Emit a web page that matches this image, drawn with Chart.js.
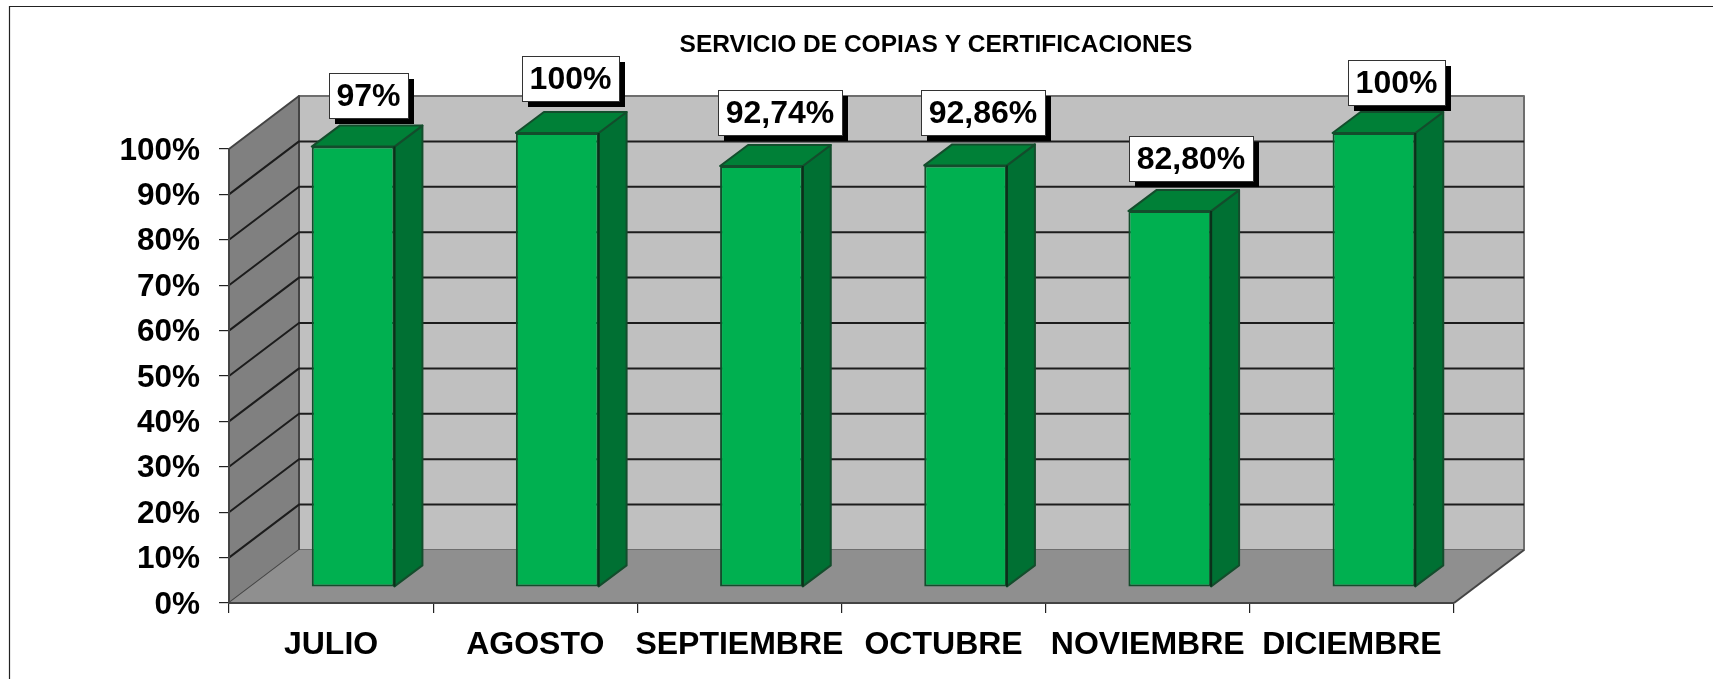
<!DOCTYPE html>
<html><head><meta charset="utf-8">
<style>html,body{margin:0;padding:0;background:#fff}canvas{display:block;filter:blur(0.45px)}</style>
<script src="https://cdn.jsdelivr.net/npm/chart.js@4"></script>
</head><body><canvas id="c" width="1713" height="679"></canvas>
<script>
const categories = ['JULIO','AGOSTO','SEPTIEMBRE','OCTUBRE','NOVIEMBRE','DICIEMBRE'];
const values = [97,100,92.74,92.86,82.8,100];
const valueLabels = ['97%','100%','92,74%','92,86%','82,80%','100%'];
const titleText = 'SERVICIO DE COPIAS Y CERTIFICACIONES';
const labelShiftX = [15.5,13.5,18.5,17.5,21.5,23];
const labelShiftY = [29,32,31,30,30,28];

const FONT = '"Liberation Sans", Arial, sans-serif';
const DX = 70, DY = 53;      // depth of the 3D box
const BX = 22, BY = 16;      // bars sit inside the box
const SX = 28, SY = 21;      // depth of a bar

function poly(ctx, pts, fill, stroke, lw){
  ctx.beginPath();
  pts.forEach((p,i)=> i ? ctx.lineTo(p[0],p[1]) : ctx.moveTo(p[0],p[1]));
  ctx.closePath();
  if(fill){ctx.fillStyle=fill;ctx.fill();}
  if(stroke){ctx.strokeStyle=stroke;ctx.lineWidth=lw||1;ctx.lineJoin='round';ctx.stroke();}
}
function line(ctx,pts,color,lw){
  ctx.beginPath();
  pts.forEach((p,i)=> i ? ctx.lineTo(p[0],p[1]) : ctx.moveTo(p[0],p[1]));
  ctx.strokeStyle=color;ctx.lineWidth=lw;ctx.stroke();
}
const box3d = {
  id:'box3d',
  afterLayout(chart){
    const t = chart.titleBlock;
    t.left += 209; t.right += 209;
  },
  beforeDraw(chart){
    const {ctx,scales:{x,y}} = chart;
    const l=x.left,r=x.right,top=y.getPixelForValue(100),bot=y.getPixelForValue(0);
    ctx.save();
    line(ctx,[[9.5,679],[9.5,6.5],[1713,6.5]],'#222',1.2);
    poly(ctx,[[l+DX,top-DY],[r+DX,top-DY],[r+DX,bot-DY],[l+DX,bot-DY]],'#C0C0C0','#6e6e6e',2);
    poly(ctx,[[l,top],[l+DX,top-DY],[l+DX,bot-DY],[l,bot]],'#808080','#444',2);
    poly(ctx,[[l,bot],[l+DX,bot-DY],[r+DX,bot-DY],[r,bot]],'#8F8F8F');
    line(ctx,[[r,bot],[r+DX,bot-DY]],'#444',2);
    y.ticks.forEach(t=>{
      if(t.value<=0||t.value>=100) return;
      const p=y.getPixelForValue(t.value);
      line(ctx,[[l,p],[l+DX,p-DY],[r+DX,p-DY]],'#1c1c1c',2);
    });
    ctx.restore();
  },
  beforeDatasetsDraw(chart){
    const {ctx} = chart;
    ctx.save();
    ctx.translate(BX,-BY);
    chart.getDatasetMeta(0).data.forEach(b=>{
      const xr=b.x+b.width/2, xl=b.x-b.width/2;
      poly(ctx,[[xr,b.y],[xr+SX,b.y-SY],[xr+SX,b.base-SY],[xr,b.base]],'#007033','#134d2c',2);
      poly(ctx,[[xl,b.y],[xl+SX,b.y-SY],[xr+SX,b.y-SY],[xr,b.y]],'#008037','#134d2c',2);
    });
  },
  afterDatasetsDraw(chart){
    const {ctx} = chart;
    chart.getDatasetMeta(0).data.forEach(b=>{
      const xr=b.x+b.width/2;
      line(ctx,[[xr,b.y],[xr,b.base]],'#0b2f1a',2);
    });
    ctx.restore();
    ctx.save();
    ctx.font='bold 32px '+FONT;
    ctx.textAlign='center';ctx.textBaseline='middle';
    chart.getDatasetMeta(0).data.forEach((b,i)=>{
      const txt=valueLabels[i];
      const w=Math.round(ctx.measureText(txt).width)+15, h=45;
      const cx=b.x+BX+labelShiftX[i];
      const bottom=b.y-BY-labelShiftY[i];
      const x0=Math.round(cx-w/2), y0=Math.round(bottom-h);
      ctx.fillStyle='#000';ctx.fillRect(x0+6,y0+6,w,h);
      ctx.fillStyle='#fff';ctx.fillRect(x0,y0,w,h);
      ctx.strokeStyle='#333';ctx.lineWidth=1;ctx.strokeRect(x0+.5,y0+.5,w,h);
      ctx.fillStyle='#000';ctx.fillText(txt,x0+w/2,y0+h/2+1.5);
    });
    ctx.restore();
  }
};
new Chart(document.getElementById('c'),{
  type:'bar',
  data:{labels:categories,datasets:[{
    data:values,
    backgroundColor:'#00B050',
    borderColor:'#134d2c',
    borderWidth:2,
    borderSkipped:false,
    categoryPercentage:0.405,
    barPercentage:1,
    clip:false
  }]},
  options:{
    responsive:false,animation:false,
    layout:{padding:{left:0,top:0,right:1713-1454,bottom:0}},
    plugins:{
      legend:{display:false},tooltip:{enabled:false},
      title:{display:true,text:titleText,color:'#000',
        font:{family:FONT,size:24.5,weight:'bold',lineHeight:1.2},
        padding:{top:30.3,bottom:89.3}}
    },
    scales:{
      x:{
        grid:{offset:true,drawOnChartArea:false,drawTicks:true,tickLength:10,color:'#222',lineWidth:1.2},
        border:{color:'#444',width:2},
        ticks:{color:'#000',font:{family:FONT,size:32,weight:'bold'},autoSkip:false,maxRotation:0,minRotation:0,padding:13},
        afterFit(s){s.height=679-603;}
      },
      y:{
        min:0,max:100,
        grid:{drawOnChartArea:false,drawTicks:true,tickLength:10,color:'#222',lineWidth:1.2},
        border:{color:'#444',width:2},
        ticks:{stepSize:10,color:'#000',font:{family:FONT,size:31.5,weight:'bold'},padding:19,labelOffset:2,callback:v=>v+'%'},
        afterFit(s){s.width=229;}
      }
    }
  },
  plugins:[box3d]
});
</script></body></html>
